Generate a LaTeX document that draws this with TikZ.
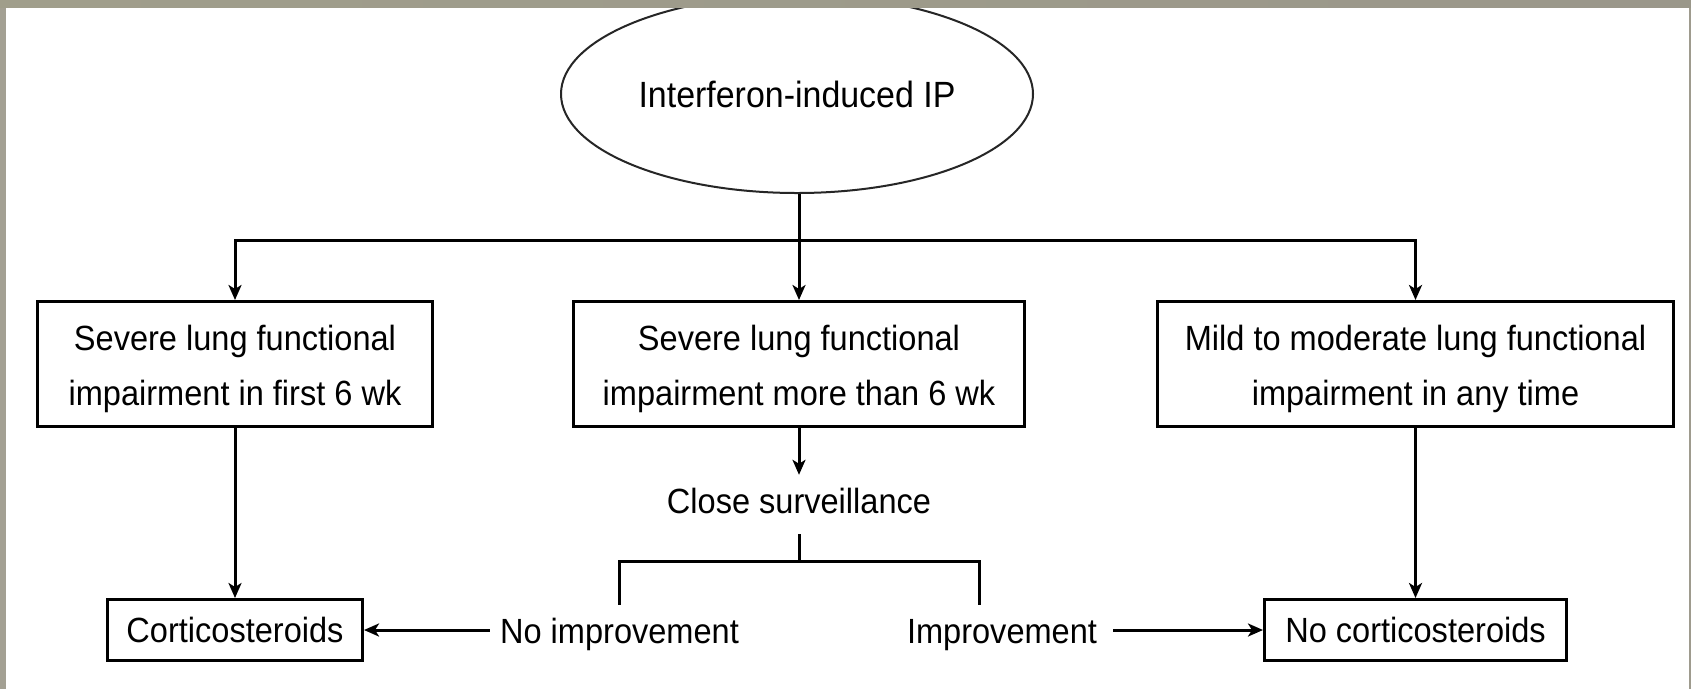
\documentclass[tikz,border=0pt]{standalone}
\usepackage{fontspec}
\setmainfont{Liberation Sans}[FakeStretch=0.93]
\usetikzlibrary{arrows.meta,shapes.geometric}
\definecolor{frameL}{HTML}{A09E8B}
\definecolor{frameM}{HTML}{DED8C4}
\definecolor{frameR}{HTML}{9A978A}
\definecolor{sideL}{HTML}{A3A093}
\definecolor{sideR}{HTML}{9E9B8E}
\newcommand{\topfix}{\rule{0pt}{36pt}}
\begin{document}
\begin{tikzpicture}[x=1pt,y=-1pt,
  txt/.style={font=\fontsize{35pt}{55pt}\selectfont},
  box/.style={txt, draw, line width=3pt, rectangle, inner sep=0pt, align=center},
  lbl/.style={txt, inner xsep=10pt, inner ysep=13pt, text height=25pt, text depth=8pt},
  arr/.style={line width=3pt, -{Stealth[length=15pt,width=13pt,inset=4pt]}},
  conn/.style={line width=3pt},
  ]
\fill[white] (0,0) rectangle (1691,689);
\useasboundingbox (0,0) rectangle (1691,689);

\node[ellipse, draw=black!85, line width=2pt, minimum width=472pt, minimum height=198pt,
      inner sep=0pt, font=\fontsize{36.5pt}{44pt}\selectfont] (ell) at (797,94) {Interferon-induced IP};

\node[box, minimum width=395pt, minimum height=125pt] (b1) at (235,364)
  {\topfix Severe lung functional\\impairment in first 6 wk};
\node[box, minimum width=451pt, minimum height=125pt] (b2) at (799,364)
  {\topfix Severe lung functional\\impairment more than 6 wk};
\node[box, minimum width=516pt, minimum height=125pt] (b3) at (1415.5,364)
  {\topfix Mild to moderate lung functional\\impairment in any time};

\node[box, minimum width=255pt, minimum height=61pt] (cort) at (235,630) {Corticosteroids};
\node[box, minimum width=302pt, minimum height=61pt] (ncort) at (1415.5,630) {No corticosteroids};

\node[lbl] (cs) at (799,504.5) {Close surveillance};
\node[lbl] (ni) at (619.5,634.5) {No improvement};
\node[lbl] (im) at (1002,634.5) {Improvement};

\coordinate (hub) at (799,240);
\coordinate (brY) at (0,561);
\coordinate (brR) at (979,561);

\draw[conn] (ell.south -| hub) -- (hub);
\draw[arr] (hub) -- (b2.north);
\draw[arr] (hub) -| (b1.north);
\draw[arr] (hub) -| (b3.north);
\draw[arr] (b1.south) -- (cort.north);
\draw[arr] (b3.south) -- (ncort.north);
\draw[arr] (b2.south) -- (cs.north);
\draw[conn] (cs.south) -- (cs.south |- brY);
\draw[conn] (ni.north) -- (ni.north |- brY) -- (brR) -- (brR |- im.north);
\draw[arr] (ni.west |- cort.east) -- (cort.east);
\draw[arr] ([xshift=6pt]im.east |- ncort.west) -- (ncort.west);

% frame
\fill[sideL] (0,0) rectangle (6,689);
\fill[sideR] (1688.5,0) rectangle (1691,689);
\shade[left color=frameL, middle color=frameM, right color=frameR] (0,0) rectangle (1691,7.5);
\end{tikzpicture}
\end{document}
